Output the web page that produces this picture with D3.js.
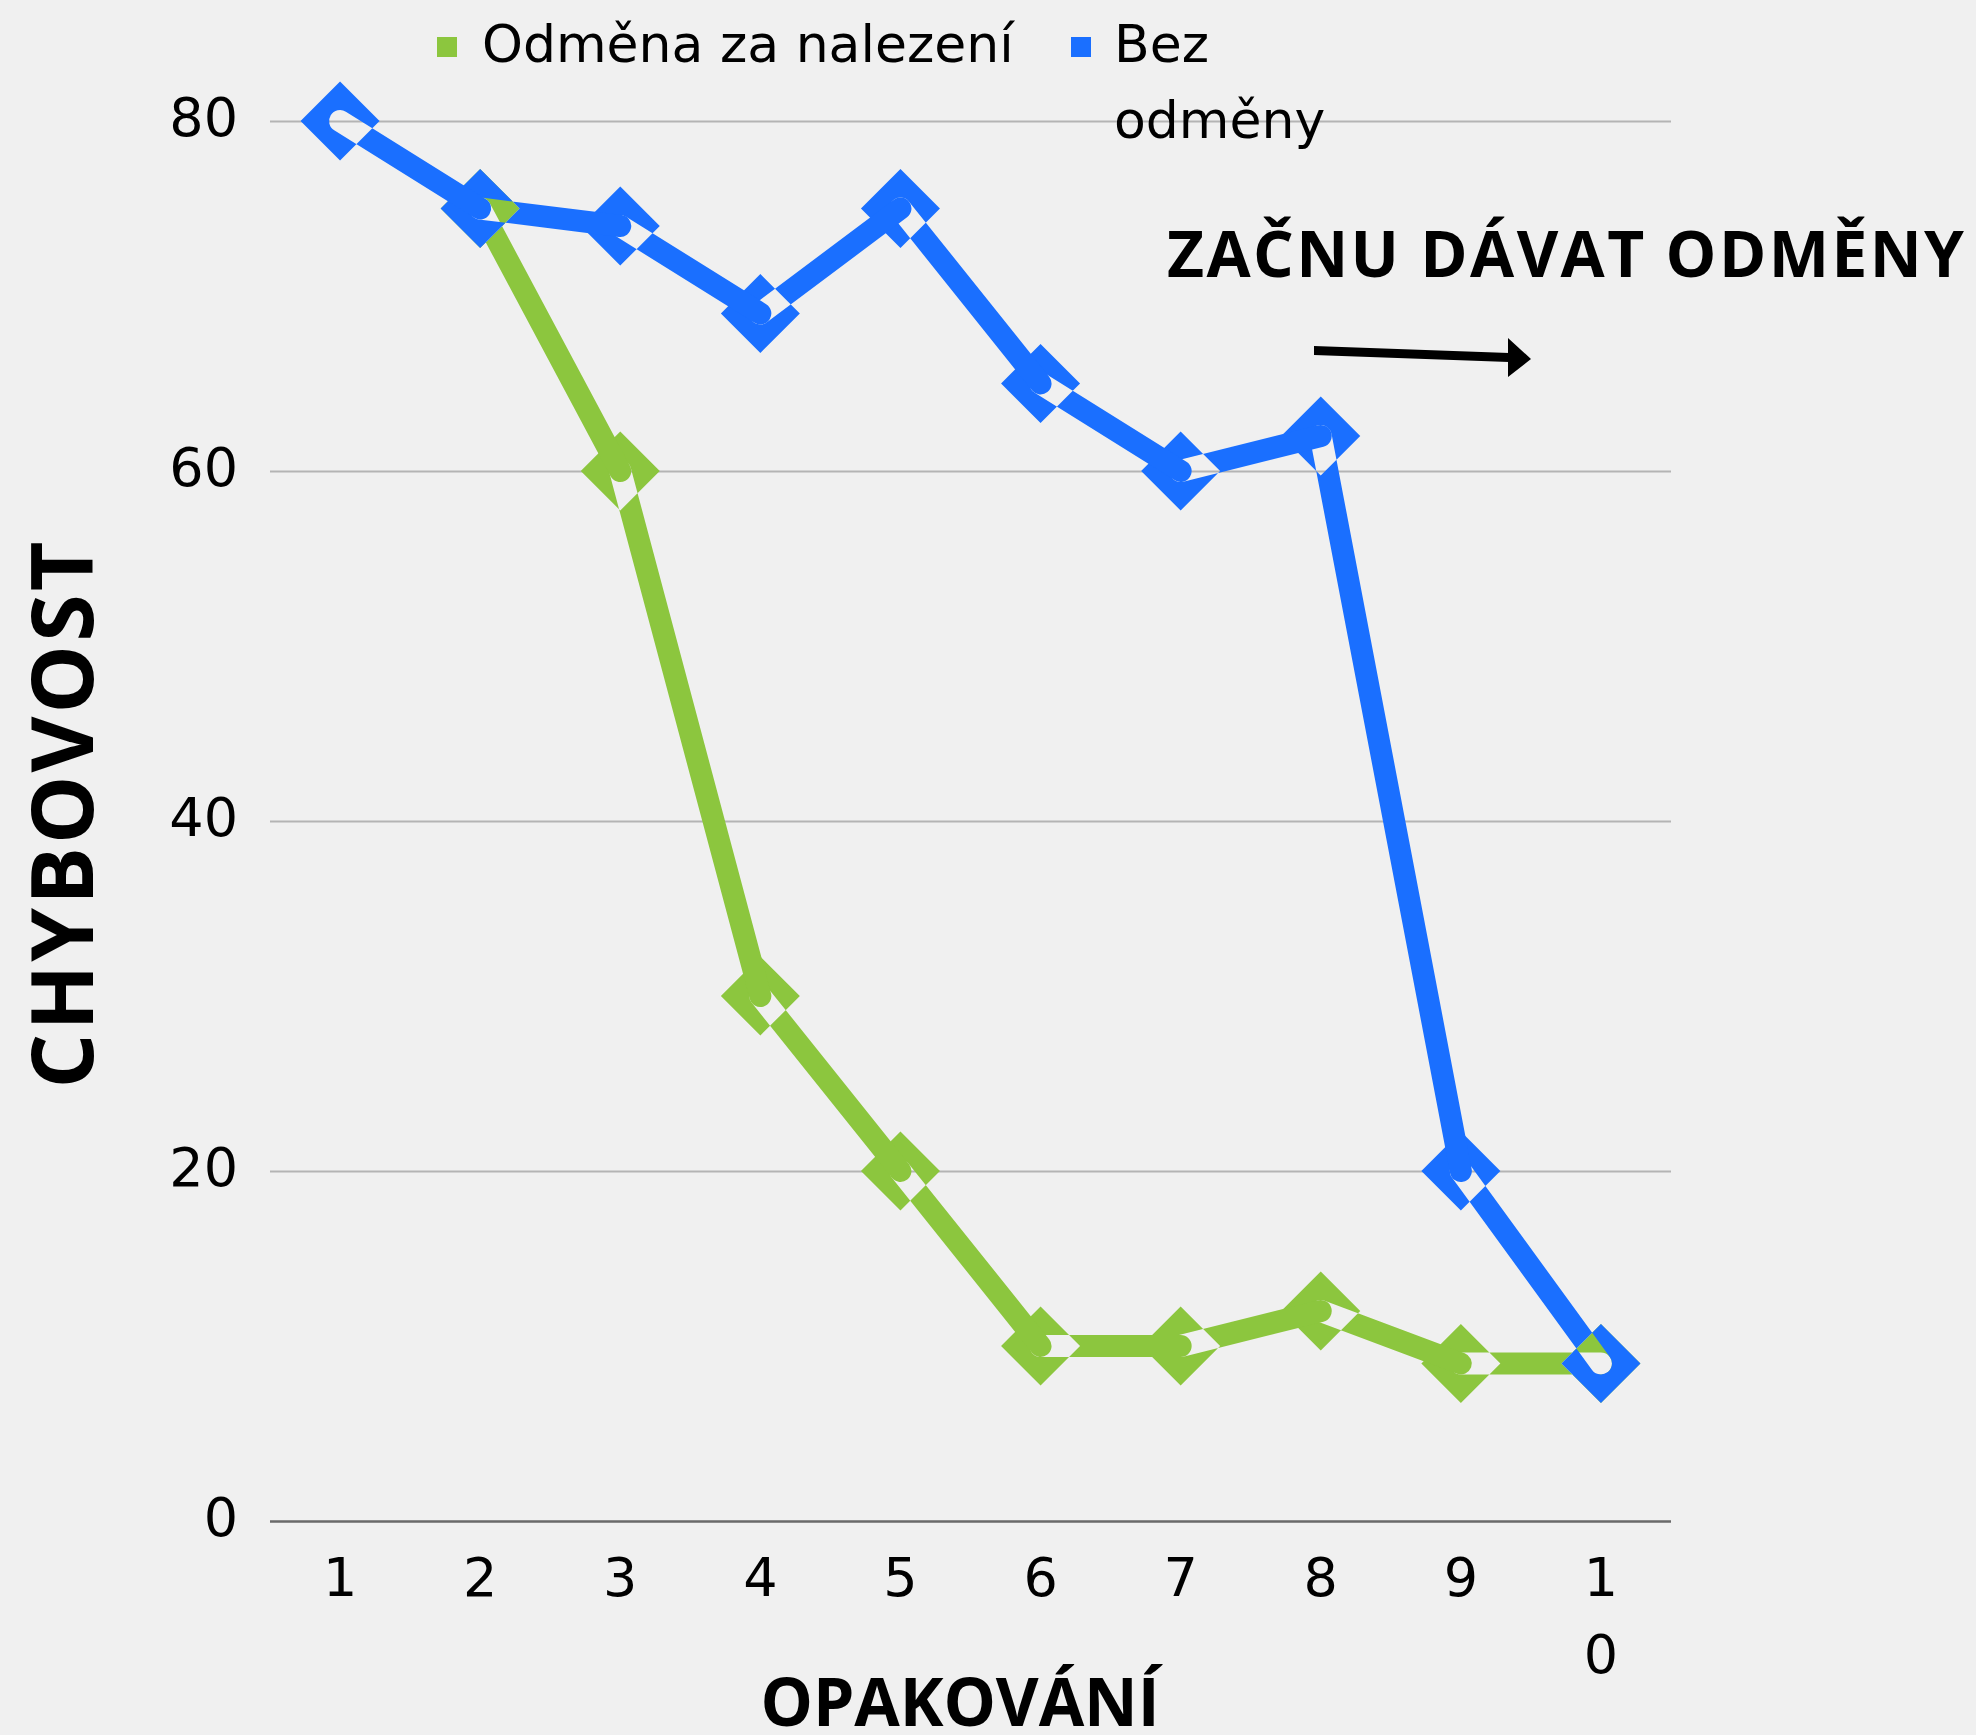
<!DOCTYPE html>
<html>
<head>
<meta charset="utf-8">
<script src="https://cdn.jsdelivr.net/npm/d3@7"></script>
<style>
  html, body { margin: 0; padding: 0; background: #f0f0f0; }
  svg { display: block; }
</style>
</head>
<body>
<script>
// ---- data ----
const categories = [1, 2, 3, 4, 5, 6, 7, 8, 9, 10];
const seriesNames = ["Odměna za nalezení", "Bez odměny"];
const rewardValues = [null, 75, 60, 30, 20, 10, 10, 12, 9, 9];
const noRewardValues = [80, 75, 74, 69, 75, 65, 60, 62, 20, 9];
const yTicks = [0, 20, 40, 60, 80];
const yTitle = "CHYBOVOST";
const xTitle = "OPAKOVÁNÍ";
const annotationText = "ZAČNU DÁVAT ODMĚNY";

// ---- layout ----
const W = 1976, H = 1735;
const plot = { left: 270, right: 1671, top: 121, bottom: 1521 };
const colors = { reward: "#8cc63e", noReward: "#1a6fff" };
const lineHalf = 11, diamondR = 39.5;

const svg = d3.select("body").append("svg").attr("width", W).attr("height", H);
svg.append("rect").attr("width", W).attr("height", H).attr("fill", "#f0f0f0");

const x = d3.scaleBand().domain(categories).range([plot.left, plot.right]);
const y = d3.scaleLinear().domain([0, 80]).range([plot.bottom, plot.top]);
const cx = c => x(c) + x.bandwidth() / 2;

// gridlines + y labels
const yAxis = svg.append("g")
  .attr("transform", `translate(${plot.left},0)`)
  .call(d3.axisLeft(y).tickValues(yTicks).tickSize(-(plot.right - plot.left)).tickPadding(0));
yAxis.select(".domain").remove();
yAxis.selectAll(".tick line").attr("stroke", "#b4b4b4").attr("stroke-width", 2);
yAxis.selectAll(".tick").filter(d => d === 0).select("line").attr("stroke", "#6a6a6a").attr("stroke-width", 2.5);
yAxis.selectAll(".tick text")
  .attr("x", -32).attr("dy", null).attr("y", 14)
  .attr("fill", "#000")
  .style("font-family", "'DejaVu Sans'").style("font-size", "54px");

// x labels
const xAxis = svg.append("g")
  .attr("transform", `translate(0,${plot.bottom})`)
  .call(d3.axisBottom(x).tickSize(0).tickPadding(0));
xAxis.select(".domain").remove();
xAxis.selectAll(".tick text").each(function(d) {
  const t = d3.select(this);
  const s = String(d);
  t.text(null).attr("y", 75).attr("dy", null).attr("fill", "#000")
    .style("font-family", "'DejaVu Sans'").style("font-size", "54px");
  // narrow label box: multi-digit labels wrap one character per line
  s.split("").forEach((ch, i) => {
    t.append("tspan").attr("x", 0).attr("y", 75 + i * 77).text(ch);
  });
});

// ---- series ----
function stadium(p, q, w) {
  const dx = q[0] - p[0], dy = q[1] - p[1];
  const len = Math.hypot(dx, dy);
  const ux = dx / len, uy = dy / len;
  const nx = -uy, ny = ux;
  return `M${p[0] + nx * w},${p[1] + ny * w}` +
    `L${q[0] + nx * w},${q[1] + ny * w}` +
    `A${w},${w} 0 0 0 ${q[0] - nx * w},${q[1] - ny * w}` +
    `L${p[0] - nx * w},${p[1] - ny * w}` +
    `A${w},${w} 0 0 0 ${p[0] + nx * w},${p[1] + ny * w}Z`;
}
function diamond(c, r) {
  return `M${c[0]},${c[1] - r}L${c[0] + r},${c[1]}L${c[0]},${c[1] + r}L${c[0] - r},${c[1]}Z`;
}
function drawSeries(values, color) {
  const pts = categories.map((c, i) => values[i] == null ? null : [cx(c), y(values[i])]).filter(p => p);
  const g = svg.append("g");
  const n = pts.length;
  for (let k = n - 2; k >= 0; k--) {
    let d = diamond(pts[k], diamondR) + stadium(pts[k], pts[k + 1], lineHalf);
    if (k === n - 2) d += diamond(pts[k + 1], diamondR);
    g.append("path").attr("d", d).attr("fill", color).attr("fill-rule", "evenodd");
  }
}
drawSeries(rewardValues, colors.reward);
drawSeries(noRewardValues, colors.noReward);

// ---- legend ----
const legend = svg.append("g").style("font-family", "'DejaVu Sans'").style("font-size", "52px");
legend.append("rect").attr("x", 437).attr("y", 37).attr("width", 20).attr("height", 20).attr("fill", colors.reward);
legend.append("text").attr("x", 482).attr("y", 62).text(seriesNames[0]);
legend.append("rect").attr("x", 1071).attr("y", 37).attr("width", 20).attr("height", 20).attr("fill", colors.noReward);
const lt = legend.append("text").attr("x", 1114).attr("y", 62);
seriesNames[1].split(" ").forEach((w, i) => lt.append("tspan").attr("x", 1114).attr("y", 62 + i * 76).text(w));

// ---- titles ----
svg.append("text")
  .attr("transform", `translate(93,815) rotate(-90)`)
  .attr("text-anchor", "middle")
  .attr("textLength", 547).attr("lengthAdjust", "spacing")
  .style("font-family", "'Open Sans'").style("font-weight", 700).style("font-size", "86px")
  .text(yTitle);
svg.append("text")
  .attr("x", 960).attr("y", 1726).attr("text-anchor", "middle")
  .attr("textLength", 399).attr("lengthAdjust", "spacing")
  .style("font-family", "'Open Sans'").style("font-weight", 700).style("font-size", "66px")
  .text(xTitle);

// ---- annotation ----
svg.append("text")
  .attr("x", 1167).attr("y", 277)
  .attr("textLength", 797).attr("lengthAdjust", "spacing")
  .style("font-family", "'Open Sans'").style("font-weight", 700).style("font-size", "64px")
  .text(annotationText);
svg.append("path")
  .attr("d", "M1314,346L1509,353L1509,362L1314,355Z M1508,338L1531,359L1508,377Z")
  .attr("fill", "#000");
</script>
</body>
</html>
